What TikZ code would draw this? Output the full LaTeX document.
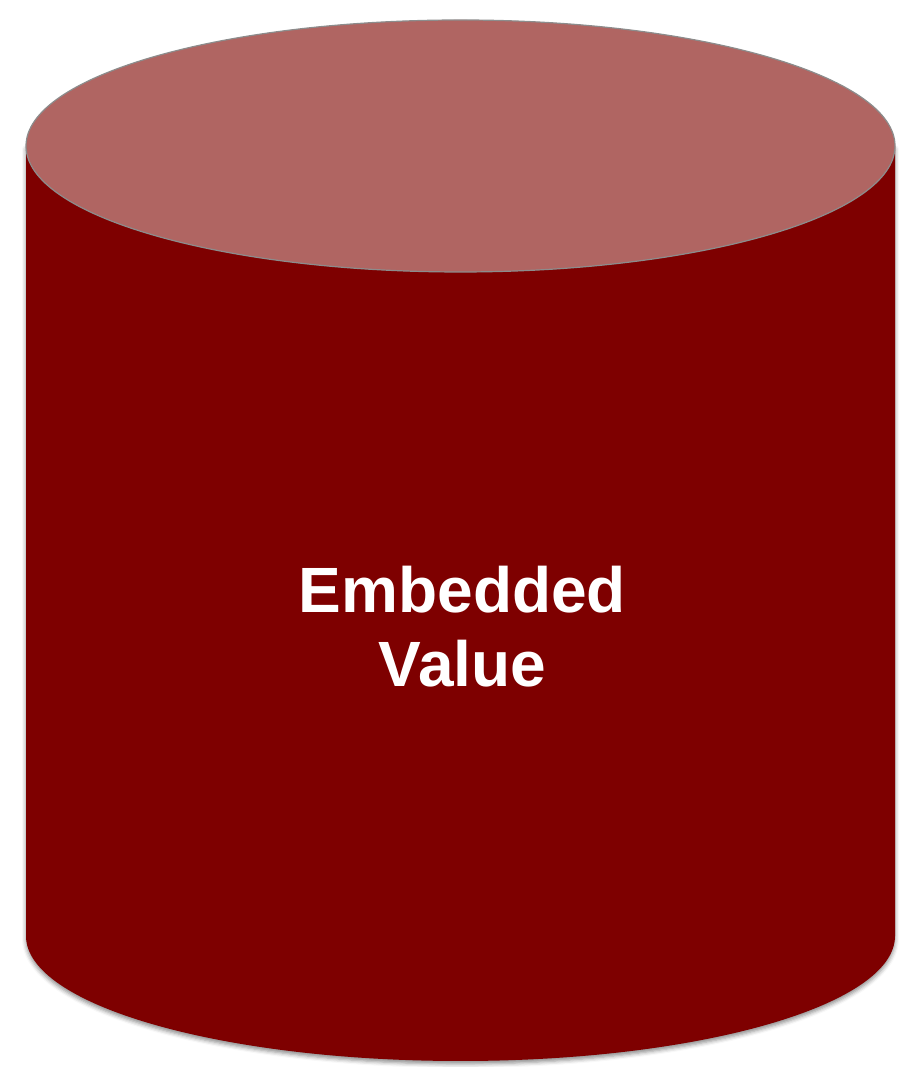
\documentclass[tikz,border=0pt]{standalone}
\usepackage{fontspec}
\setmainfont{Liberation Sans}
\usetikzlibrary{shadows.blur}
\definecolor{drumside}{RGB}{126,0,0}
\definecolor{drumtop}{RGB}{176,101,98}
\definecolor{drumrim}{RGB}{140,140,140}
\tikzset{
  drumbody/.style={fill=drumside, blur shadow={shadow xshift=0pt, shadow yshift=-3pt, shadow blur radius=4pt, shadow opacity=45}},
  drumlid/.style={fill=drumtop, draw=drumrim, line width=1.2pt},
  drumlabel/.style={text=white, font=\bfseries\fontsize{64}{74}\selectfont, align=center, inner sep=0pt}
}
\begin{document}
\begin{tikzpicture}[x=1pt,y=1pt]
\useasboundingbox (0,0) rectangle (898,1067);
% side of the drum, closed by the lower half of the base ellipse
\path[drumbody] (26,921) -- (26,131)
  arc[start angle=180, end angle=360, x radius=434.5, y radius=125]
  -- (895,921) -- cycle;
% lid
\path[drumlid] (460.5,921) ellipse[x radius=434.5, y radius=126];
% caption
\node[drumlabel] (label) at (462.5,440.5) {Embedded\\Value};
\end{tikzpicture}
\end{document}
